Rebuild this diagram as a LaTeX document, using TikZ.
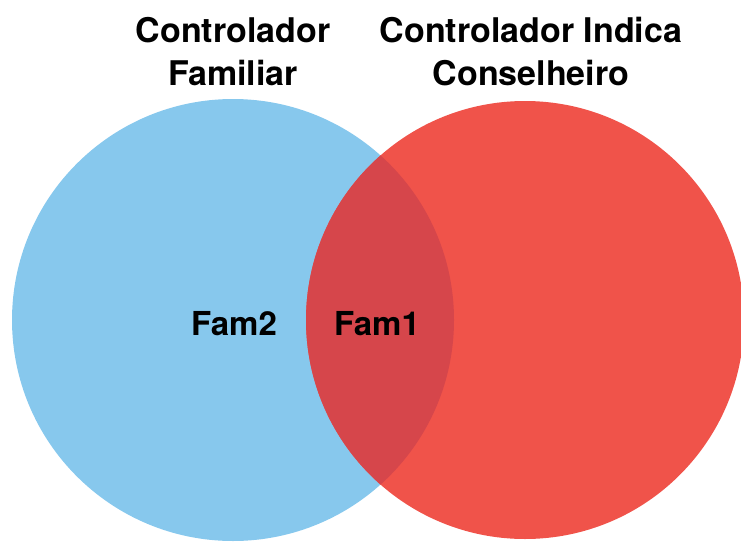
\documentclass[tikz,border=0pt]{standalone}
\usepackage{fontspec}
\setmainfont{TeX Gyre Heros}
\definecolor{famblue}{HTML}{87C8ED}
\definecolor{consred}{HTML}{F0534A}
\definecolor{bothred}{HTML}{D6464B}

\begin{document}
\begin{tikzpicture}[
	x=1pt, y=-1pt,
	title/.style={
		font=\bfseries\fontsize{34}{43}\selectfont,
		align=center,
		anchor=base,
		inner sep=0pt
	},
	famtext/.style={
		font=\bfseries\fontsize{33}{40}\selectfont,
		anchor=base,
		inner sep=0pt
	}
]

	\useasboundingbox (0,0) rectangle (741,541);

	\coordinate (famc) at (233,320);
	\coordinate (consc) at (525,320);

	\fill[famblue] (famc) circle[radius=221];
	\fill[consred] (consc) circle[radius=219];
	\begin{scope}
		\clip (famc) circle[radius=221];
		\fill[bothred] (consc) circle[radius=219];
	\end{scope}

	\node[title] (familiar) at (233,85) {Controlador\\Familiar};
	\node[title] (conselheiro) at (531,85) {Controlador Indica\\Conselheiro};

	\node[famtext] (fam2) at (234,335) {Fam2};
	\node[famtext] (fam1) at (377,335) {Fam1};

\end{tikzpicture}
\end{document}
